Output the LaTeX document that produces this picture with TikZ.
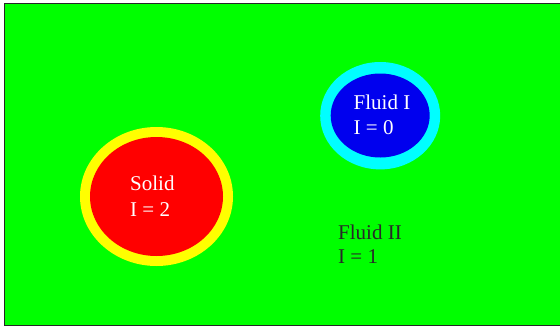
\documentclass[tikz,border=0pt]{standalone}
\usepackage{fontspec}
\setmainfont{Liberation Serif}
\definecolor{bggreen}{RGB}{0,255,0}
\definecolor{ringyellow}{RGB}{255,255,0}
\definecolor{solidred}{RGB}{255,0,0}
\definecolor{ringcyan}{RGB}{0,255,255}
\definecolor{fluidblue}{RGB}{0,0,238}
\definecolor{darktext}{RGB}{40,40,40}
\begin{document}
\begin{tikzpicture}[x=1pt,y=-1pt,
  lbl/.style={anchor=base west,inner sep=0pt,font=\fontsize{21}{25}\selectfont},
  whitelbl/.style={lbl,text=white},
  darklbl/.style={lbl,text=darktext}]
\useasboundingbox[fill=white] (0,0) rectangle (560,327);
\clip (0,0) rectangle (560,327);
\draw[fill=bggreen,draw=black!85,line width=1.2pt] (4.5,3.5) rectangle (570,325.5);
% solid
\fill[ringyellow] (156.5,196.5) ellipse [x radius=76.5,y radius=69.5];
\fill[solidred] (156.5,196.5) ellipse [x radius=66.5,y radius=59.5];
% fluid I
\fill[ringcyan] (380.2,115.7) ellipse [x radius=60,y radius=53.7];
\fill[fluidblue] (380.2,115.5) ellipse [x radius=49.5,y radius=42];
% labels
\node[whitelbl] (s1) at (130,190.5) {Solid};
\node[whitelbl] (s2) at (130,216) {I = 2};
\node[whitelbl] (f1) at (353.5,109) {Fluid I};
\node[whitelbl] (f2) at (353.5,134.3) {I = 0};
\node[darklbl] (g1) at (338,239) {Fluid II};
\node[darklbl] (g2) at (338,263.5) {I = 1};
\end{tikzpicture}
\end{document}
